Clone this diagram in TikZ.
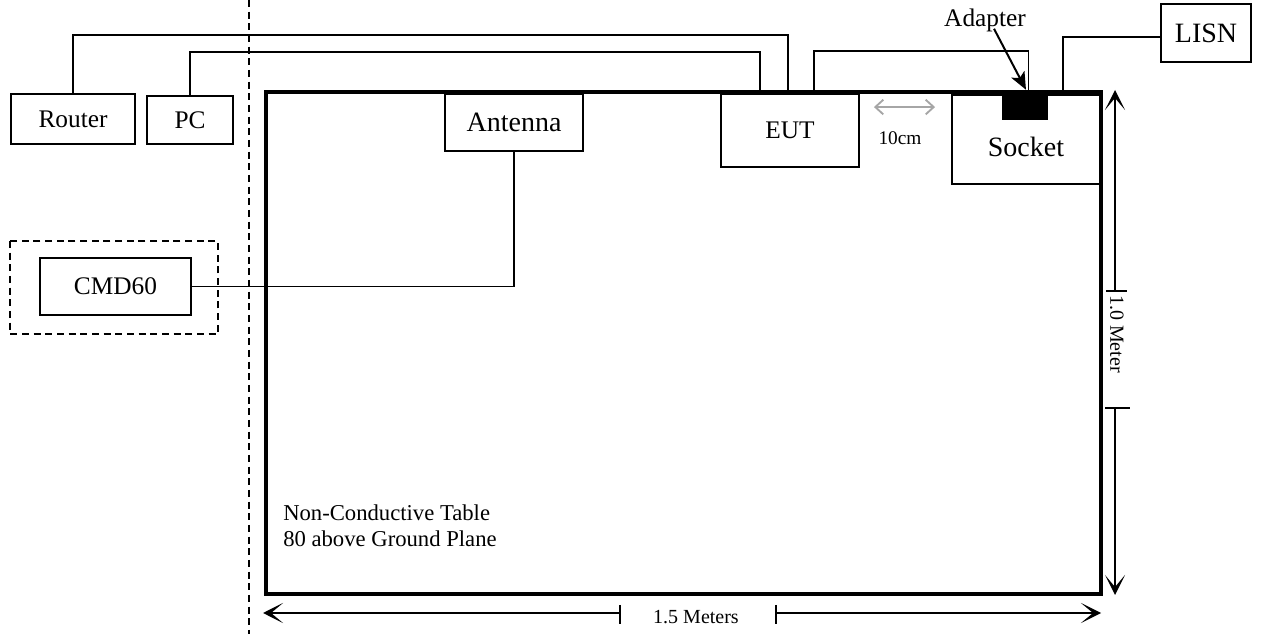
\documentclass[tikz,border=0pt]{standalone}
\usepackage{fontspec}
\setmainfont{Liberation Serif}
\usetikzlibrary{arrows.meta,positioning}

\begin{document}
\begin{tikzpicture}[x=0.75pt,y=-0.75pt,
% Boxes style
    unit/.style={draw,line width=1.4pt,inner sep=0pt,
		font=\fontsize{19}{22}\selectfont},
    bigunit/.style={unit,font=\fontsize{21}{24}\selectfont},
    plug/.style={draw,fill=black,inner sep=0pt},
    desk/.style={draw,line width=2.6pt,inner sep=0pt},
    frame/.style={draw,line width=1.2pt,dash pattern=on 5.25pt off 3.5pt},
% Cable style
    cable/.style={line width=1.2pt},
% Dimension style
    dim/.style={line width=1.2pt,-{Stealth[length=15pt,width=15pt,inset=9pt]}},
    gap/.style={line width=1.4pt,draw=gray!70,
		{Straight Barb[length=6pt,width=11pt]}-{Straight Barb[length=6pt,width=11pt]}},
    dimtext/.style={inner sep=0pt,font=\fontsize{15}{18}\selectfont}
    ]
    \useasboundingbox (0,0) rectangle (1265,634);
%% Table and separation line
    \node[desk,minimum width=626.25pt,minimum height=376.5pt] (table) at (683.5,343) {};
    \draw[frame] (249,0) -- (249,634);
    \draw[frame] (10,241) rectangle (218,334);
%% Equipment
    \node[unit,minimum width=93pt,minimum height=37.5pt] (router) at (73,119) {Router};
    \node[unit,minimum width=64pt,minimum height=36pt] (pc) at (190,120) {PC};
    \node[unit,minimum width=113.25pt,minimum height=42.75pt] (cmd) at (115.5,286.5) {CMD60};
    \node[bigunit,minimum width=103.5pt,minimum height=42.75pt] (antenna) at (514,122.5) {Antenna};
    \node[unit,minimum width=103.5pt,minimum height=54.75pt] (eut) at (790,130.5) {EUT};
    \node[bigunit,minimum width=111pt,minimum height=66.75pt,
		text height=25.5pt,text depth=0pt] (socket) at (1026,139.5) {Socket};
    \node[plug,minimum width=33.75pt,minimum height=18pt] (adapter) at (1024.5,107) {};
    \node[bigunit,minimum width=67.5pt,minimum height=43.5pt] (lisn) at (1206,33) {LISN};
    \node[inner sep=0pt,font=\fontsize{19}{22}\selectfont] (adaptertext) at (985,20) {Adapter};
%% Cables
    \draw[cable] (router.north) -- ++(0,-58) -| ([xshift=-1.5pt]eut.north);
    \draw[cable] (pc.north) -- ++(0,-43) -| ([xshift=-22.5pt]eut.north);
    \draw[cable] ([xshift=18pt]eut.north) -- ++(0,-42) -| ([xshift=3pt]adapter.north);
    \draw[cable] ([xshift=27.75pt]socket.north) |- ([yshift=-3pt]lisn.west);
    \draw[cable] (antenna.south) |- (cmd.east);
    \draw[cable,line width=1.5pt,-{Stealth[length=13pt,width=11pt,inset=3pt]}]
		([xshift=6.75pt,yshift=2.25pt]adaptertext.south) -- ([xshift=1.1pt,yshift=3.75pt]adapter.north);
%% Distances
    \draw[gap] ([xshift=10.5pt,yshift=-10.5pt]eut.north east) -- ([xshift=-12pt,yshift=-9.75pt]socket.north west);
    \node[inner sep=0pt,font=\fontsize{14.5}{17}\selectfont] (gaptext) at (900,138.5) {10cm};
    \node[dimtext] (widthtext) at (696,617) {1.5 Meters};
    \draw[dim] (620,613) -- (263,613);
    \draw[dim] (776,613) -- (1101,613);
    \draw[cable] (620,605) -- (620,624) (776,605) -- (776,624);
    \node[dimtext,rotate=-90] (depthtext) at (1117,334) {1.0 Meter};
    \draw[dim] (1115,291) -- (1115,90);
    \draw[dim] (1115,408) -- (1115,595);
    \draw[cable] (1106,291) -- (1127,291) (1105,408) -- (1130,408);
%% Table note
    \node[inner sep=0pt,anchor=north west,align=left,
		font=\fontsize{17}{19.5}\selectfont] (note) at (283,505)
		{Non-Conductive Table\\80 above Ground Plane};
\end{tikzpicture}
\end{document}
